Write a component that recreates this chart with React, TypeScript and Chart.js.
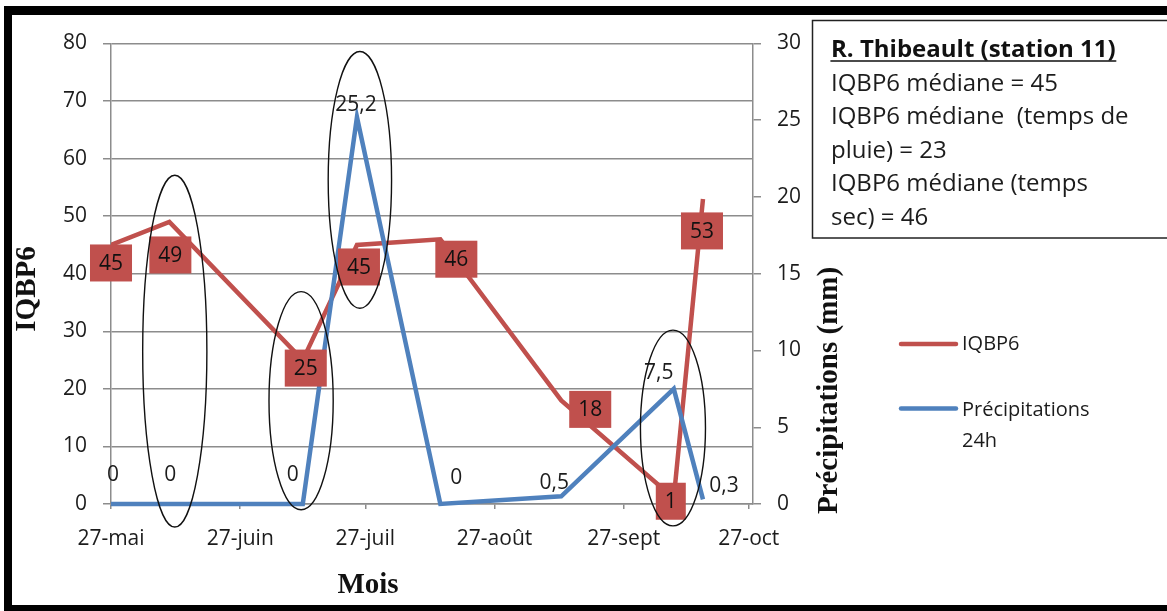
import React, { useEffect, useRef } from 'react';
import { Chart, registerables } from 'chart.js';

Chart.register(...registerables);

// Sampling dates and measurements
const sampleDates = ['2013-05-27', '2013-06-10', '2013-07-12', '2013-07-25', '2013-08-14', '2013-09-12', '2013-10-09', '2013-10-16'];
const iqbp6Values = [45, 49, 25, 45, 46, 18, 1, 53];
const precipValues = [0, 0, 0, 25.2, 0, 0.5, 7.5, 0.3];

// Date axis: one tick per month
const monthTickDates = ['2013-05-27', '2013-06-27', '2013-07-27', '2013-08-27', '2013-09-27', '2013-10-27'];
const monthTickLabels = ['27-mai', '27-juin', '27-juil', '27-août', '27-sept', '27-oct'];
const axisEndDate = '2013-10-28';

// Station note
const noteTitle = 'R. Thibeault (station 11)';
const noteLines = ['IQBP6 médiane = 45', 'IQBP6 médiane  (temps de', 'pluie) = 23', 'IQBP6 médiane (temps', 'sec) = 46'];

// Pixel nudges for the value labels
const iqbpLabelShift = [[0, 18], [1, 33], [3, 8], [2, 22], [16, 20], [29, 9], [-3, 3], [-1, 32]];
const precipLabelShift = [[2, -29], [1, -29], [-10, -29], [-1, -12], [16, -26], [-7, -13], [-15, -16], [21, -13]];

// Rain events circled on the chart: centre (days), half width (days), top/bottom on the IQBP6 scale
const ringCentreDays = [15.3, 45.6, 59.7, 134.8];
const ringHalfWidthDays = [7.7, 7.7, 7.6, 7.8];
const ringTop = [57.1, 36.9, 78.6, 30.2];
const ringBottom = [-4, -1, 34, -3.8];

const RED = '#C0504D';
const BLUE = '#4F81BD';
const GRID = '#8c8c8c';
const TEXT = '#1c1c1c';
const SANS = '"Open Sans", "Noto Sans", sans-serif';
const SERIF = '"Liberation Serif", "DejaVu Serif", serif';

const DAY_MS = 86400000;
const dayOf = (d: string) => (Date.parse(d) - Date.parse(sampleDates[0])) / DAY_MS;
const sampleDays = sampleDates.map(dayOf);
const tickDays = monthTickDates.map(dayOf);
const fmt = (v: number) => String(v).replace('.', ',');

const decorPlugin = {
  id: 'decor',
  beforeDraw(chart: any) {
    const { ctx, width, height } = chart;
    ctx.save();
    ctx.fillStyle = '#ffffff';
    ctx.fillRect(0, 0, width, height);
    ctx.restore();
  },
  afterDatasetsDraw(chart: any) {
    const { ctx } = chart;
    const xs = chart.scales.x;
    const ys = chart.scales.y;
    ctx.save();

    // IQBP6 value boxes
    const redMeta = chart.getDatasetMeta(0);
    ctx.font = `21px ${SANS}`;
    ctx.textAlign = 'center';
    ctx.textBaseline = 'middle';
    redMeta.data.forEach((pt: any, i: number) => {
      const label = fmt(iqbp6Values[i]);
      const cx = pt.x + iqbpLabelShift[i][0];
      const cy = pt.y + iqbpLabelShift[i][1];
      const w = ctx.measureText(label).width + 18;
      const h = 37;
      ctx.fillStyle = RED;
      ctx.fillRect(cx - w / 2, cy - h / 2, w, h);
      ctx.fillStyle = '#111111';
      ctx.fillText(label, cx, cy + 1);
    });

    // precipitation values
    const blueMeta = chart.getDatasetMeta(1);
    ctx.font = `21px ${SANS}`;
    ctx.fillStyle = TEXT;
    blueMeta.data.forEach((pt: any, i: number) => {
      ctx.fillText(fmt(precipValues[i]), pt.x + precipLabelShift[i][0], pt.y + precipLabelShift[i][1]);
    });

    // circled events
    ctx.strokeStyle = '#111111';
    ctx.lineWidth = 1.4;
    ringCentreDays.forEach((d, i) => {
      const cx = xs.getPixelForValue(d);
      const rx = xs.getPixelForValue(d + ringHalfWidthDays[i]) - cx;
      const top = ys.getPixelForValue(ringTop[i]);
      const bottom = ys.getPixelForValue(ringBottom[i]);
      ctx.beginPath();
      ctx.ellipse(cx, (top + bottom) / 2, rx, (bottom - top) / 2, 0, 0, Math.PI * 2);
      ctx.stroke();
    });
    ctx.restore();
  },
  afterDraw(chart: any) {
    const { ctx, width, height } = chart;
    ctx.save();

    // axis titles
    ctx.fillStyle = '#111111';
    ctx.font = `bold 29px ${SERIF}`;
    ctx.textAlign = 'center';
    ctx.textBaseline = 'alphabetic';
    ctx.save();
    ctx.translate(35, 289);
    ctx.rotate(-Math.PI / 2);
    ctx.fillText('IQBP6', 0, 0);
    ctx.restore();
    ctx.save();
    ctx.translate(836.5, 390.5);
    ctx.rotate(-Math.PI / 2);
    ctx.fillText('Précipitations (mm)', 0, 0);
    ctx.restore();
    ctx.fillText('Mois', 368, 593);

    // legend
    ctx.lineWidth = 4.5;
    ctx.lineCap = 'round';
    ctx.strokeStyle = RED;
    ctx.beginPath();
    ctx.moveTo(901, 344);
    ctx.lineTo(956, 344);
    ctx.stroke();
    ctx.strokeStyle = BLUE;
    ctx.beginPath();
    ctx.moveTo(901, 408.5);
    ctx.lineTo(956, 408.5);
    ctx.stroke();
    ctx.font = `20px ${SANS}`;
    ctx.fillStyle = TEXT;
    ctx.textAlign = 'left';
    ctx.fillText('IQBP6', 962, 350);
    ctx.fillText('Précipitations', 962, 416);
    ctx.fillText('24h', 962, 447);

    // station note box
    ctx.strokeStyle = '#222222';
    ctx.lineWidth = 1.5;
    ctx.strokeRect(812.5, 20.5, 420, 217.5);
    ctx.fillStyle = '#111111';
    ctx.font = `bold 24px ${SANS}`;
    ctx.fillText(noteTitle, 831, 57);
    const tw = ctx.measureText(noteTitle).width;
    ctx.lineWidth = 1.6;
    ctx.strokeStyle = '#111111';
    ctx.beginPath();
    ctx.moveTo(831, 61);
    ctx.lineTo(831 + tw, 61);
    ctx.stroke();
    ctx.font = `24px ${SANS}`;
    ctx.fillStyle = TEXT;
    noteLines.forEach((line, i) => {
      ctx.fillText(line, 831, 90.6 + i * 33.6);
    });

    // outer frame
    ctx.fillStyle = '#000000';
    ctx.fillRect(4, 6, width - 4, 9);
    ctx.fillRect(4, 6, 8, height - 6);
    ctx.fillRect(4, height - 6, width - 4, 6);
    ctx.restore();
  },
};

export default function App() {
  const canvasRef = useRef<HTMLCanvasElement | null>(null);

  useEffect(() => {
    const canvas = canvasRef.current;
    if (!canvas) return;
    const tickFont = { family: SANS, size: 21 };
    const chart = new Chart(canvas, {
      type: 'line',
      data: {
        datasets: [
          {
            label: 'IQBP6',
            data: sampleDays.map((d, i) => ({ x: d, y: iqbp6Values[i] })),
            borderColor: RED,
            borderWidth: 4.5,
            pointRadius: 0,
            tension: 0,
            yAxisID: 'y',
            order: 2,
          },
          {
            label: 'Précipitations 24h',
            data: sampleDays.map((d, i) => ({ x: d, y: precipValues[i] })),
            borderColor: BLUE,
            borderWidth: 4.5,
            pointRadius: 0,
            tension: 0,
            yAxisID: 'y1',
            order: 1,
            clip: false,
          },
        ],
      },
      options: {
        responsive: false,
        animation: false,
        layout: { padding: { top: 43.5, left: 0, right: 0, bottom: 0 } },
        plugins: { legend: { display: false }, tooltip: { enabled: false } },
        scales: {
          x: {
            type: 'linear',
            min: 0,
            max: dayOf(axisEndDate),
            afterBuildTicks: (s: any) => {
              s.ticks = tickDays.map((v) => ({ value: v }));
            },
            afterFit: (s: any) => {
              s.height = 107;
            },
            ticks: {
              callback: (_v: any, i: number) => monthTickLabels[i],
              font: tickFont,
              color: TEXT,
              padding: 17,
              maxRotation: 0,
              autoSkip: false,
            },
            grid: { drawOnChartArea: false, drawTicks: true, tickLength: 5, color: GRID, lineWidth: 1.5 },
            border: { display: true, color: GRID, width: 1.5 },
          },
          y: {
            position: 'left',
            min: 0,
            max: 80,
            afterFit: (s: any) => {
              s.width = 111;
            },
            ticks: { stepSize: 10, padding: 16, font: tickFont, color: TEXT },
            grid: { color: GRID, lineWidth: 1.5, tickLength: 8 },
            border: { display: true, color: GRID, width: 1.5 },
          },
          y1: {
            position: 'right',
            min: 0,
            max: 30,
            afterFit: (s: any) => {
              s.width = 414;
            },
            ticks: { stepSize: 5, padding: 16, font: tickFont, color: TEXT },
            grid: { drawOnChartArea: false, color: GRID, lineWidth: 1.5, tickLength: 8 },
            border: { display: true, color: GRID, width: 1.5 },
          },
        },
      },
      plugins: [decorPlugin],
    } as any);
    return () => chart.destroy();
  }, []);

  return (
    <div style={{ position: 'absolute', left: 0, top: 0, width: 1167, height: 611, background: '#fff' }}>
      <canvas ref={canvasRef} width={1167} height={611} style={{ width: 1167, height: 611, display: 'block' }} />
    </div>
  );
}
